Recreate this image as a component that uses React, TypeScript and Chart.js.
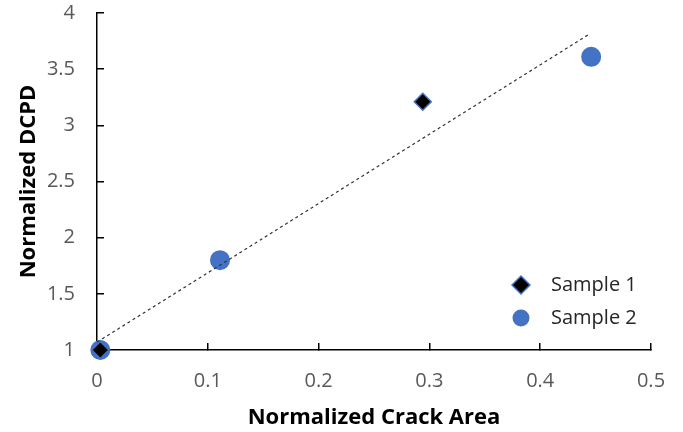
import React, { useEffect, useRef } from 'react';
import { Chart, registerables } from 'chart.js';
import { drawPoint } from 'chart.js/helpers';

Chart.register(...registerables);

const xTickLabels = ['0', '0.1', '0.2', '0.3', '0.4', '0.5'];
const yTickLabels = ['1', '1.5', '2', '2.5', '3', '3.5', '4'];
const seriesNames = ['Sample 1', 'Sample 2'];
const sample1X = [0.003, 0.294];
const sample1Y = [1.0, 3.21];
const sample2X = [0.003, 0.111, 0.446];
const sample2Y = [1.0, 1.8, 3.61];
const trendX = [0, 0.444];
const trendY = [1.07, 3.81];
const xTitle = 'Normalized Crack Area';
const yTitle = 'Normalized DCPD';

const FONT = '"Open Sans", "DejaVu Sans", sans-serif';

const toPoints = (xs: number[], ys: number[]) => xs.map((x, i) => ({ x, y: ys[i] }));

const insideLegend = {
  id: 'insideLegend',
  afterDatasetsDraw(chart: any) {
    const { ctx, chartArea } = chart;
    const items = chart.data.datasets.filter((d: any) => d.inLegend);
    ctx.save();
    items.forEach((ds: any, i: number) => {
      const cx = chartArea.right - 130;
      const cy = chartArea.bottom - 65 + i * 33;
      ctx.fillStyle = ds.backgroundColor;
      ctx.strokeStyle = ds.borderColor;
      ctx.lineWidth = ds.borderWidth;
      drawPoint(ctx, { pointStyle: ds.pointStyle, radius: ds.legendRadius, rotation: 0, borderWidth: ds.borderWidth }, cx, cy);
      ctx.fillStyle = '#262626';
      ctx.font = `20px ${FONT}`;
      ctx.textBaseline = 'middle';
      ctx.textAlign = 'left';
      ctx.fillText(ds.label, cx + 30, cy);
    });
    ctx.restore();
  },
};

export default function App() {
  const ref = useRef<HTMLCanvasElement | null>(null);
  useEffect(() => {
    if (!ref.current) return;
    const chart = new Chart(ref.current, {
      type: 'scatter',
      data: {
        datasets: [
          {
            label: seriesNames[0],
            data: toPoints(sample1X, sample1Y),
            pointStyle: 'rectRot',
            pointRadius: 8.5,
            pointHoverRadius: 8.5,
            backgroundColor: '#000000',
            borderColor: '#4472C4',
            borderWidth: 1.5,
            clip: false,
            inLegend: true,
            legendRadius: 9,
          } as any,
          {
            label: 'Trend',
            data: toPoints(trendX, trendY),
            showLine: true,
            pointRadius: 0,
            pointHoverRadius: 0,
            borderColor: '#333333',
            borderWidth: 1.2,
            borderDash: [3, 3],
            backgroundColor: 'transparent',
            fill: false,
          } as any,
          {
            label: seriesNames[1],
            data: toPoints(sample2X, sample2Y),
            pointStyle: 'circle',
            pointRadius: 9,
            pointHoverRadius: 9,
            backgroundColor: '#4472C4',
            borderColor: '#4472C4',
            borderWidth: 2,
            clip: false,
            inLegend: true,
            legendRadius: 7.5,
          } as any,
        ],
      },
      options: {
        animation: false,
        responsive: false,
        devicePixelRatio: 1,
        events: [],
        layout: { padding: { left: 0, top: 13, right: 32, bottom: 0 } },
        plugins: {
          legend: { display: false },
          tooltip: { enabled: false },
        },
        scales: {
          x: {
            type: 'linear',
            min: 0,
            max: 0.5,
            afterFit: (s: any) => { s.height = 82; s.paddingLeft = 0; s.paddingRight = 0; },
            ticks: {
              stepSize: 0.1,
              padding: 26,
              color: '#595959',
              font: { family: FONT, size: 20 },
              callback: (_v: any, i: number) => xTickLabels[i],
            },
            grid: { display: true, drawOnChartArea: false, drawTicks: true, tickLength: -7, color: '#000', lineWidth: 1.5 },
            border: { display: true, color: '#000', width: 1.5 },
            title: {
              display: true,
              text: xTitle,
              color: '#000',
              font: { family: FONT, size: 22, weight: 'bold' },
              padding: { top: 0, bottom: 1 },
            },
          },
          y: {
            type: 'linear',
            min: 1,
            max: 4,
            afterFit: (s: any) => { s.width = 97; s.paddingTop = 0; s.paddingBottom = 0; },
            ticks: {
              stepSize: 0.5,
              padding: 29,
              color: '#595959',
              font: { family: FONT, size: 20 },
              callback: (_v: any, i: number) => yTickLabels[i],
            },
            grid: { display: true, drawOnChartArea: false, drawTicks: true, tickLength: -7, color: '#000', lineWidth: 1.5 },
            border: { display: true, color: '#000', width: 1.5 },
            title: {
              display: true,
              text: yTitle,
              color: '#000',
              font: { family: FONT, size: 22, weight: 'bold' },
              padding: { top: 16, bottom: 0 },
            },
          },
        },
      },
      plugins: [insideLegend],
    });
    return () => chart.destroy();
  }, []);
  return (
    <div style={{ position: 'absolute', left: 0, top: 0, width: 683, height: 432, background: '#fff' }}>
      <canvas ref={ref} width={683} height={432} style={{ display: 'block' }} />
    </div>
  );
}
